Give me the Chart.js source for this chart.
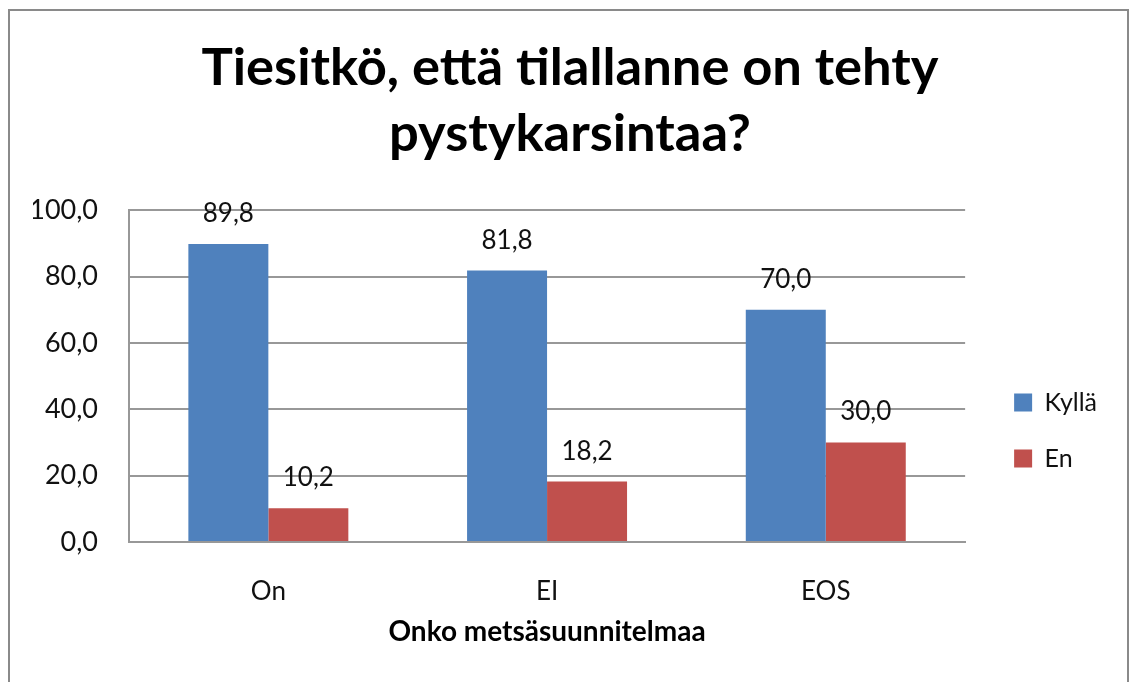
<!DOCTYPE html>
<html lang="fi">
<head>
    <meta charset="UTF-8">
    <title>Tiesitkö, että tilallanne on tehty pystykarsintaa?</title>
    <style>
        body {
            margin: 0;
            background: #ffffff;
        }
        #wrap {
            position: relative;
            width: 1132px;
            height: 682px;
        }
    </style>
    <script src="https://cdn.jsdelivr.net/npm/chart.js"></script>
</head>
<body>

<div id="wrap">
    <canvas id="barChart"></canvas>
</div>

<script>
    // data
    const categories = ['On', 'EI', 'EOS'];
    const seriesNames = ['Kyllä', 'En'];
    const kyllaValues = [89.8, 81.8, 70.0];
    const enValues = [10.2, 18.2, 30.0];
    const yTicks = [0, 20, 40, 60, 80, 100];

    const titleLines = ['Tiesitkö, että tilallanne on tehty', 'pystykarsintaa?'];
    const xTitle = 'Onko metsäsuunnitelmaa';

    const FONT = 'Lato, "Open Sans", sans-serif';
    const fmt = v => Number(v).toFixed(1).replace('.', ',');

    // grey frame round the whole chart
    const framePlugin = {
        id: 'frame',
        beforeDraw(chart) {
            const c = chart.ctx;
            c.save();
            c.fillStyle = '#ffffff';
            c.fillRect(0, 0, chart.width, chart.height);
            c.strokeStyle = '#8a8a8a';
            c.lineWidth = 2;
            c.strokeRect(9, 10, 1119, 700);
            c.restore();
        }
    };

    // value labels above the bars
    const valueLabels = {
        id: 'valueLabels',
        afterDatasetsDraw(chart) {
            const c = chart.ctx;
            c.save();
            c.font = '26px ' + FONT;
            c.fillStyle = '#111';
            c.textAlign = 'center';
            c.textBaseline = 'alphabetic';
            chart.data.datasets.forEach((ds, i) => {
                chart.getDatasetMeta(i).data.forEach((bar, j) => {
                    c.fillText(fmt(ds.data[j]), bar.x, bar.y - 22);
                });
            });
            c.restore();
        }
    };

    const ctx = document.getElementById('barChart').getContext('2d');
    const chart = new Chart(ctx, {
        type: 'bar',
        data: {
            labels: categories,
            datasets: [{
                label: seriesNames[0],
                data: kyllaValues,
                backgroundColor: '#4f81bd'
            }, {
                label: seriesNames[1],
                data: enValues,
                backgroundColor: '#c0504d'
            }]
        },
        options: {
            responsive: true,
            maintainAspectRatio: false,
            animation: false,
            devicePixelRatio: 1,
            layout: { padding: { top: 0, right: 25, bottom: 0, left: 33 } },
            datasets: {
                bar: { categoryPercentage: 0.574, barPercentage: 1.0 }
            },
            plugins: {
                title: {
                    display: true,
                    text: titleLines,
                    color: '#000',
                    font: { family: FONT, size: 52.5, weight: 'bold', lineHeight: 1.24 },
                    padding: { top: 36, bottom: 44 }
                },
                legend: {
                    display: true,
                    position: 'right',
                    fullSize: false,
                    align: 'center',
                    title: { display: true, text: '', padding: { top: 0, bottom: 0 }, font: { size: 109, lineHeight: 1 } },
                    labels: {
                        boxWidth: 18,
                        boxHeight: 18,
                        padding: 31,
                        color: '#111',
                        font: { family: FONT, size: 25 }
                    }
                },
                tooltip: { enabled: false }
            },
            scales: {
                x: {
                    grid: { display: false },
                    border: { display: true, color: '#989898', width: 2 },
                    ticks: {
                        color: '#111',
                        padding: 26,
                        font: { family: FONT, size: 26 }
                    },
                    title: {
                        display: true,
                        text: xTitle,
                        color: '#000',
                        font: { family: FONT, size: 28, weight: 'bold' },
                        padding: { top: 0, bottom: 33 }
                    },
                    afterFit(scale) { scale.height = 140; }
                },
                y: {
                    min: 0,
                    max: 100,
                    afterBuildTicks(scale) {
                        scale.ticks = yTicks.map(v => ({ value: v }));
                    },
                    grid: { color: '#989898', lineWidth: 2, drawTicks: false },
                    border: { display: true, color: '#989898', width: 2 },
                    ticks: {
                        color: '#111',
                        padding: 31,
                        font: { family: FONT, size: 27 },
                        callback: v => fmt(v)
                    },
                    afterFit(scale) { scale.width = 96; }
                },
                spacer: {
                    type: 'linear',
                    position: 'right',
                    display: true,
                    grid: { display: false },
                    border: { display: false },
                    ticks: { display: false },
                    afterFit(scale) { scale.width = 18; }
                }
            }
        },
        plugins: [framePlugin, valueLabels]
    });
</script>

</body>
</html>
